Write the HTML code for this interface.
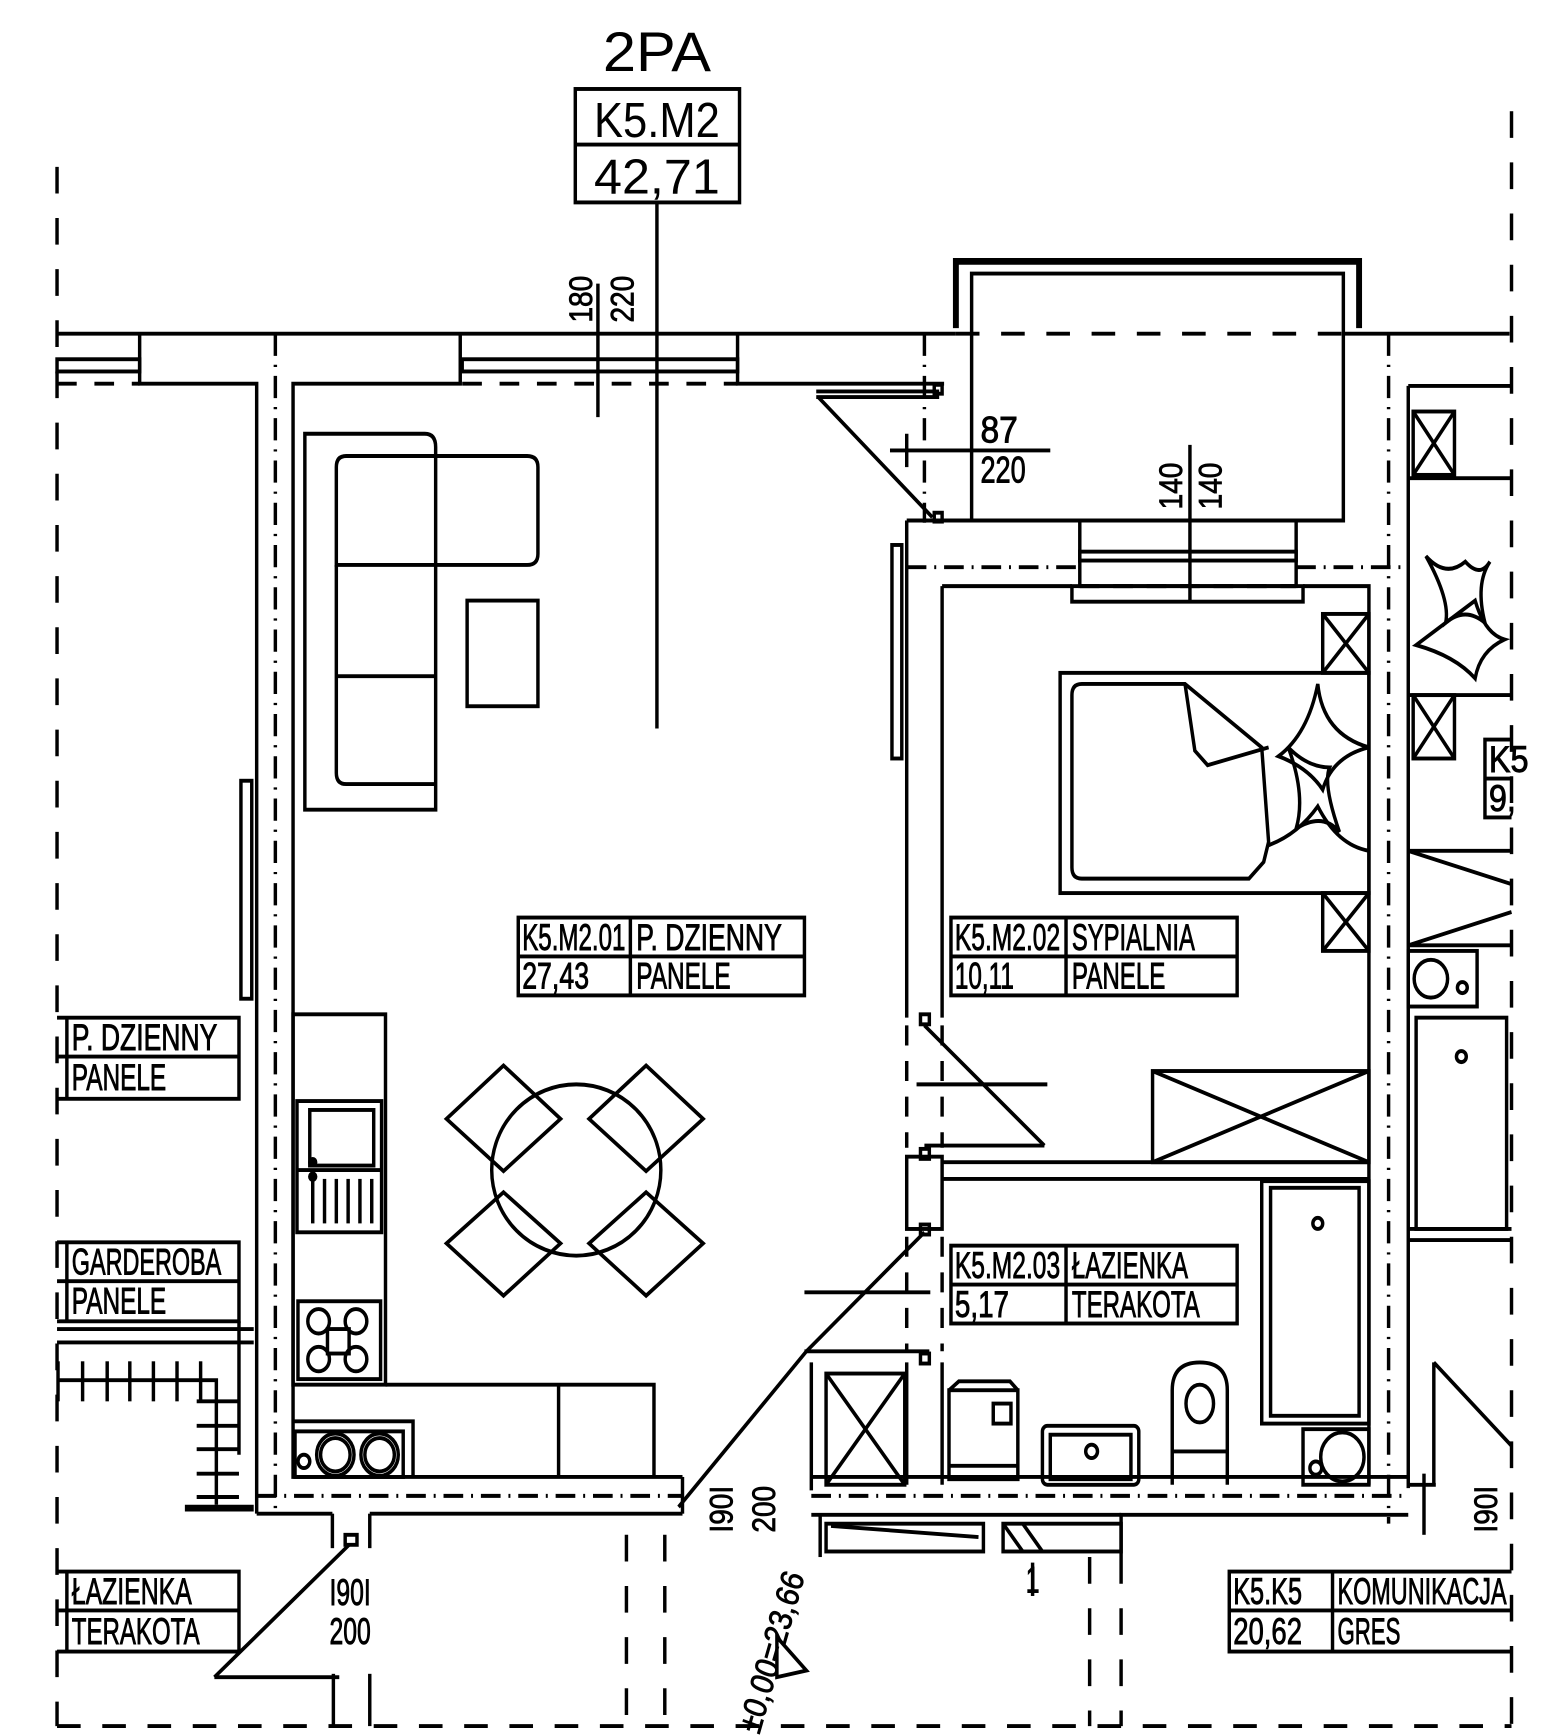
<!DOCTYPE html>
<html><head><meta charset="utf-8"><style>
html,body{margin:0;padding:0;background:#fff}
svg{display:block}
text{font-family:"Liberation Sans",sans-serif;fill:#000}
</style></head><body>
<svg width="1542" height="1735" viewBox="0 0 1568 1560" preserveAspectRatio="none" xmlns="http://www.w3.org/2000/svg">
<g fill="none" stroke="#000" stroke-width="3.5" vector-effect="non-scaling-stroke" style="vector-effect:non-scaling-stroke">
<!-- outer dashed frame -->
<line x1="58" y1="150" x2="58" y2="1552" stroke-dasharray="24 22"/>
<line x1="1537" y1="100" x2="1537" y2="1552" stroke-dasharray="24 22"/>
<line x1="58" y1="1552" x2="1537" y2="1552" stroke-dasharray="24 22"/>

<!-- top wall -->
<line x1="58" y1="300" x2="972" y2="300"/>
<line x1="972" y1="300" x2="1366" y2="300" stroke-dasharray="24 22"/>
<line x1="1366" y1="300" x2="1535" y2="300"/>
<rect x="58" y="323" width="84" height="11"/>
<rect x="470" y="323" width="280" height="11"/>
<line x1="58" y1="345" x2="142" y2="345" stroke-dasharray="20 18"/>
<line x1="470" y1="345" x2="750" y2="345" stroke-dasharray="20 18"/>
<polyline points="142,300 142,345 261,345 261,1361"/>
<polyline points="468,300 468,345 298,345 298,1328 694,1328"/>
<polyline points="750,300 750,345 960,345"/>
<line x1="280" y1="300" x2="280" y2="1360" stroke-dasharray="20 8 2 8"/>
<line x1="261" y1="1361" x2="338" y2="1361"/>
<line x1="376" y1="1361" x2="694" y2="1361"/>
<line x1="261" y1="1345" x2="694" y2="1345" stroke-dasharray="20 8 2 8"/>
<line x1="694" y1="1328" x2="694" y2="1361"/>
<!-- door jambs bottom-left -->
<polyline points="338,1361 338,1392"/><polyline points="376,1361 376,1392"/>
<rect x="351" y="1380" width="12" height="9"/>
<line x1="355" y1="1389" x2="218" y2="1508"/>
<line x1="218" y1="1508" x2="345" y2="1508"/>
<polyline points="339,1505 339,1552"/><polyline points="376,1505 376,1552"/>
<!-- left stairs -->
<line x1="58" y1="1195" x2="258" y2="1195"/><line x1="58" y1="1207" x2="258" y2="1207"/>
<polyline points="58,1241 220,1241 220,1353"/>
<line x1="59" y1="1224" x2="59" y2="1260"/><line x1="84" y1="1224" x2="84" y2="1260"/><line x1="109" y1="1224" x2="109" y2="1260"/><line x1="132" y1="1224" x2="132" y2="1260"/><line x1="156" y1="1224" x2="156" y2="1260"/><line x1="180" y1="1224" x2="180" y2="1260"/><line x1="204" y1="1224" x2="204" y2="1260"/>
<line x1="200" y1="1260" x2="243" y2="1260"/><line x1="200" y1="1282" x2="243" y2="1282"/><line x1="200" y1="1303" x2="243" y2="1303"/><line x1="200" y1="1325" x2="243" y2="1325"/><line x1="200" y1="1346" x2="243" y2="1346"/>
<line x1="243" y1="1188" x2="243" y2="1308"/>
<line x1="188" y1="1356" x2="258" y2="1356" stroke-width="6"/>
<!-- wall decoration left (TV) -->
<rect x="245" y="702" width="11" height="196"/>

<!-- leader & dims -->
<line x1="668" y1="182" x2="668" y2="655"/>
<line x1="608" y1="255" x2="608" y2="375"/>
<line x1="905" y1="405" x2="1068" y2="405"/>
<line x1="922" y1="390" x2="922" y2="420"/>
<line x1="1210" y1="400" x2="1210" y2="542"/>

<!-- balcony -->
<polyline points="972,295 972,235 1382,235 1382,295" stroke-width="6"/>
<polyline points="988,300 988,246 1366,246 1366,468 988,468 988,300"/>
<line x1="940" y1="300" x2="940" y2="470" stroke-dasharray="20 8 2 8"/>
<line x1="1412" y1="300" x2="1412" y2="1370" stroke-dasharray="20 8 2 8"/>
<line x1="830" y1="352" x2="955" y2="352"/><line x1="830" y1="357" x2="955" y2="357"/>
<line x1="832" y1="357" x2="948" y2="465"/>
<rect x="950" y="346" width="8" height="8"/><rect x="950" y="461" width="8" height="8"/>

<!-- bedroom top wall -->
<polyline points="922,468 988,468"/>
<line x1="922" y1="468" x2="922" y2="915"/>
<line x1="958" y1="527" x2="958" y2="915"/>
<polyline points="958,527 1090,527"/>
<polyline points="1325,527 1392,527 1392,1335"/>
<rect x="1098" y="468" width="220" height="59"/>
<rect x="1098" y="496" width="220" height="8"/>
<line x1="922" y1="510" x2="1098" y2="510" stroke-dasharray="20 8 2 8"/>
<line x1="1318" y1="510" x2="1432" y2="510" stroke-dasharray="20 8 2 8"/>
<rect x="1090" y="527" width="235" height="14"/>
<line x1="1098" y1="527" x2="1318" y2="527" stroke-dasharray="20 14"/>
<rect x="907" y="490" width="10" height="192"/>

<!-- right wall -->
<line x1="1432" y1="347" x2="1432" y2="1338"/>
<line x1="1432" y1="347" x2="1537" y2="347"/>
<rect x="1437" y="370" width="42" height="57"/><line x1="1437" y1="370" x2="1479" y2="427"/><line x1="1479" y1="370" x2="1437" y2="427"/>
<rect x="1437" y="625" width="42" height="57"/><line x1="1437" y1="625" x2="1479" y2="682"/><line x1="1479" y1="625" x2="1437" y2="682"/>
<line x1="1432" y1="430" x2="1537" y2="430"/>
<line x1="1432" y1="625" x2="1537" y2="625"/>
<path d="M1450,500 Q1470,520 1490,505 Q1505,520 1515,505 Q1500,525 1510,560 Q1490,545 1470,560 Q1475,540 1450,500Z"/>
<path d="M1440,580 Q1470,560 1500,540 Q1510,570 1530,575 Q1505,585 1500,610 Q1480,590 1440,580Z"/>
<line x1="1432" y1="765" x2="1537" y2="765"/>
<polyline points="1432,765 1537,795"/>
<polyline points="1537,820 1432,850 1537,850"/>
<rect x="1432" y="855" width="70" height="50"/><circle cx="1455" cy="880" r="17"/><circle cx="1487" cy="888" r="5"/>
<rect x="1440" y="915" width="92" height="190"/><circle cx="1486" cy="950" r="5"/>
<line x1="1432" y1="1105" x2="1537" y2="1105"/><line x1="1432" y1="1115" x2="1537" y2="1115"/>
<polyline points="1458,1225 1537,1300"/><line x1="1458" y1="1225" x2="1458" y2="1335"/>
<line x1="1432" y1="1335" x2="1460" y2="1335"/>

<!-- partitions & doors -->
<rect x="936" y="912" width="9" height="9"/>
<line x1="922" y1="922" x2="922" y2="1032" stroke-dasharray="18 14"/>
<line x1="958" y1="922" x2="958" y2="1032" stroke-dasharray="18 14"/>
<line x1="940" y1="922" x2="1062" y2="1030"/>
<line x1="940" y1="1030" x2="1062" y2="1030"/>
<line x1="932" y1="975" x2="1065" y2="975"/>
<rect x="922" y="1040" width="36" height="65"/>
<rect x="936" y="1033" width="9" height="9"/><rect x="936" y="1101" width="9" height="9"/>
<line x1="958" y1="1045" x2="1392" y2="1045"/><line x1="958" y1="1060" x2="1392" y2="1060"/>
<rect x="1172" y="963" width="220" height="82"/><line x1="1172" y1="963" x2="1392" y2="1045"/><line x1="1392" y1="963" x2="1172" y2="1045"/>
<line x1="922" y1="1112" x2="922" y2="1215" stroke-dasharray="18 14"/>
<line x1="958" y1="1112" x2="958" y2="1215" stroke-dasharray="18 14"/>
<line x1="940" y1="1108" x2="820" y2="1215"/>
<line x1="818" y1="1215" x2="945" y2="1215"/>
<line x1="818" y1="1162" x2="946" y2="1162"/>
<rect x="936" y="1217" width="9" height="9"/>
<line x1="922" y1="1225" x2="922" y2="1335"/><line x1="958" y1="1225" x2="958" y2="1335"/>
<line x1="825" y1="1225" x2="825" y2="1340"/>
<line x1="820" y1="1215" x2="690" y2="1355"/>
<rect x="840" y="1235" width="80" height="100"/><line x1="840" y1="1235" x2="920" y2="1335"/><line x1="920" y1="1235" x2="840" y2="1335"/>
<line x1="825" y1="1328" x2="1432" y2="1328"/>
<line x1="825" y1="1345" x2="1432" y2="1345" stroke-dasharray="20 8 2 8"/>
<line x1="825" y1="1362" x2="1140" y2="1362"/>
<polyline points="1140,1400 1140,1362 1432,1362"/>
<rect x="840" y="1370" width="160" height="25"/><line x1="845" y1="1372" x2="995" y2="1382"/>
<rect x="1020" y="1370" width="120" height="25"/><line x1="1020" y1="1370" x2="1040" y2="1395"/><line x1="1040" y1="1370" x2="1060" y2="1395"/>
<line x1="834" y1="1362" x2="834" y2="1400"/>
<line x1="637" y1="1380" x2="637" y2="1552" stroke-dasharray="24 22"/>
<line x1="676" y1="1380" x2="676" y2="1552" stroke-dasharray="24 22"/>
<line x1="1108" y1="1400" x2="1108" y2="1552" stroke-dasharray="24 22"/>
<line x1="1140" y1="1400" x2="1140" y2="1552" stroke-dasharray="24 22"/>
<line x1="1050" y1="1405" x2="1050" y2="1435"/>
<line x1="1448" y1="1325" x2="1448" y2="1380"/>

<!-- bed -->
<rect x="1078" y="605" width="314" height="198"/>
<path d="M1100,615 L1205,615 L1283,672 L1290,757 L1285,775 L1270,790 L1100,790 Q1090,790 1090,780 L1090,625 Q1090,615 1100,615Z"/>
<path d="M1205,615 L1215,675 L1228,688 L1290,672"/>
<path d="M1340,615 Q1345,660 1392,672 Q1355,680 1345,710 Q1330,690 1300,680 Q1330,660 1340,615Z"/>
<path d="M1310,672 Q1330,690 1352,690 Q1345,705 1362,748 Q1345,730 1318,745 Q1328,715 1310,672Z"/>
<path d="M1290,760 Q1320,750 1340,725 Q1360,760 1392,765"/>
<rect x="1345" y="552" width="47" height="53"/><line x1="1345" y1="552" x2="1392" y2="605"/><line x1="1392" y1="552" x2="1345" y2="605"/>
<rect x="1345" y="803" width="47" height="52"/><line x1="1345" y1="803" x2="1392" y2="855"/><line x1="1392" y1="803" x2="1345" y2="855"/>

<!-- bathroom fixtures -->
<rect x="1283" y="1062" width="109" height="218"/>
<rect x="1292" y="1068" width="90" height="205"/>
<circle cx="1340" cy="1100" r="5"/>
<rect x="1325" y="1285" width="67" height="50"/><circle cx="1365" cy="1310" r="22"/><circle cx="1338" cy="1320" r="6"/>
<path d="M1192,1335 L1192,1250 Q1192,1225 1220,1225 Q1248,1225 1248,1250 L1248,1335"/>
<ellipse cx="1220" cy="1262" rx="14" ry="17"/>
<line x1="1192" y1="1305" x2="1248" y2="1305"/>
<rect x="1060" y="1282" width="98" height="53" rx="5"/><rect x="1068" y="1290" width="82" height="40"/>
<circle cx="1110" cy="1305" r="6"/>
<rect x="965" y="1250" width="70" height="80"/><polyline points="965,1250 975,1242 1027,1242 1035,1250"/><rect x="1010" y="1262" width="18" height="18"/>
<line x1="965" y1="1318" x2="1035" y2="1318"/>

<!-- living furniture -->
<path d="M310,390 L432,390 Q443,390 443,402 L443,728 L310,728 Z"/>
<path d="M352,410 L536,410 Q547,410 547,420 L547,498 Q547,508 536,508 L342,508 L342,420 Q342,410 352,410Z"/>
<path d="M342,508 L342,695 Q342,705 352,705 L443,705"/>
<line x1="342" y1="608" x2="443" y2="608"/>
<rect x="475" y="540" width="72" height="95"/>
<!-- kitchen -->
<rect x="298" y="912" width="94" height="333"/>
<rect x="302" y="990" width="86" height="118"/>
<rect x="315" y="998" width="65" height="50"/>
<line x1="302" y1="1052" x2="388" y2="1052"/>
<line x1="318" y1="1060" x2="318" y2="1100"/><line x1="330" y1="1060" x2="330" y2="1100"/><line x1="342" y1="1060" x2="342" y2="1100"/><line x1="354" y1="1060" x2="354" y2="1100"/><line x1="366" y1="1060" x2="366" y2="1100"/><line x1="378" y1="1060" x2="378" y2="1100"/>
<circle cx="318" cy="1045" r="3" fill="#000"/><circle cx="318" cy="1058" r="3" fill="#000"/>
<rect x="303" y="1170" width="84" height="70"/>
<circle cx="324" cy="1188" r="11"/><circle cx="362" cy="1188" r="11"/><circle cx="324" cy="1222" r="11"/><circle cx="362" cy="1222" r="11"/>
<rect x="333" y="1195" width="22" height="22"/>
<polyline points="392,1245 665,1245 665,1328"/>
<line x1="568" y1="1245" x2="568" y2="1328"/>
<polyline points="298,1278 420,1278 420,1328"/>
<rect x="300" y="1287" width="110" height="41"/>
<circle cx="341" cy="1308" r="19"/><circle cx="386" cy="1308" r="19"/>
<circle cx="341" cy="1308" r="15"/><circle cx="386" cy="1308" r="15"/>
<circle cx="309" cy="1314" r="6"/>
<!-- dining -->
<ellipse cx="586" cy="1052" rx="86" ry="77"/>
<polygon points="512,958 570,1006 512,1053 454,1006"/>
<polygon points="657,958 715,1006 657,1053 599,1006"/>
<polygon points="512,1072 570,1118 512,1165 454,1118"/>
<polygon points="657,1072 715,1118 657,1165 599,1118"/>

<!-- title box -->
<rect x="585" y="80" width="167" height="102"/>
<line x1="585" y1="130" x2="752" y2="130"/>

<!-- room label tables -->
<rect x="527" y="825" width="291" height="70"/><line x1="527" y1="860" x2="818" y2="860"/><line x1="641" y1="825" x2="641" y2="895"/>
<rect x="967" y="825" width="291" height="70"/><line x1="967" y1="860" x2="1258" y2="860"/><line x1="1084" y1="825" x2="1084" y2="895"/>
<rect x="967" y="1120" width="291" height="70"/><line x1="967" y1="1155" x2="1258" y2="1155"/><line x1="1084" y1="1120" x2="1084" y2="1190"/>
<polyline points="58,915 243,915 243,988 58,988"/><line x1="58" y1="950" x2="243" y2="950"/><line x1="68" y1="915" x2="68" y2="988"/>
<polyline points="58,1117 243,1117 243,1188 58,1188"/><line x1="58" y1="1152" x2="243" y2="1152"/><line x1="68" y1="1117" x2="68" y2="1188"/>
<polyline points="58,1413 243,1413 243,1485 58,1485"/><line x1="58" y1="1448" x2="243" y2="1448"/><line x1="68" y1="1413" x2="68" y2="1485"/>
<polyline points="1537,1413 1250,1413 1250,1485 1537,1485"/><line x1="1250" y1="1448" x2="1537" y2="1448"/><line x1="1355" y1="1413" x2="1355" y2="1485"/>
<polyline points="1537,665 1510,665 1510,735 1537,735"/><line x1="1510" y1="700" x2="1537" y2="700"/>
<polygon points="790,1472 820,1502 790,1508"/>
</g>

<g font-size="33" stroke="#000" stroke-width="0.8">
<text x="668" y="64" text-anchor="middle" font-size="50" stroke-width="0" textLength="110" lengthAdjust="spacingAndGlyphs">2PA</text>
<text x="668" y="123" text-anchor="middle" font-size="44" stroke-width="0" textLength="128" lengthAdjust="spacingAndGlyphs">K5.M2</text>
<text x="668" y="174" text-anchor="middle" font-size="44" stroke-width="0" textLength="128" lengthAdjust="spacingAndGlyphs">42,71</text>

<text x="531" y="854" textLength="105" lengthAdjust="spacingAndGlyphs">K5.M2.01</text>
<text x="647" y="854" textLength="148" lengthAdjust="spacingAndGlyphs">P. DZIENNY</text>
<text x="531" y="889" textLength="68" lengthAdjust="spacingAndGlyphs">27,43</text>
<text x="647" y="889" textLength="96" lengthAdjust="spacingAndGlyphs">PANELE</text>

<text x="971" y="854" textLength="107" lengthAdjust="spacingAndGlyphs">K5.M2.02</text>
<text x="1090" y="854" textLength="125" lengthAdjust="spacingAndGlyphs">SYPIALNIA</text>
<text x="971" y="889" textLength="60" lengthAdjust="spacingAndGlyphs">10,11</text>
<text x="1090" y="889" textLength="95" lengthAdjust="spacingAndGlyphs">PANELE</text>

<text x="971" y="1149" textLength="107" lengthAdjust="spacingAndGlyphs">K5.M2.03</text>
<text x="1090" y="1149" textLength="118" lengthAdjust="spacingAndGlyphs">ŁAZIENKA</text>
<text x="971" y="1184" textLength="55" lengthAdjust="spacingAndGlyphs">5,17</text>
<text x="1090" y="1184" textLength="130" lengthAdjust="spacingAndGlyphs">TERAKOTA</text>

<text x="73" y="944" textLength="148" lengthAdjust="spacingAndGlyphs">P. DZIENNY</text>
<text x="73" y="980" textLength="96" lengthAdjust="spacingAndGlyphs">PANELE</text>
<text x="73" y="1146" textLength="152" lengthAdjust="spacingAndGlyphs">GARDEROBA</text>
<text x="73" y="1181" textLength="96" lengthAdjust="spacingAndGlyphs">PANELE</text>
<text x="73" y="1442" textLength="122" lengthAdjust="spacingAndGlyphs">ŁAZIENKA</text>
<text x="73" y="1478" textLength="130" lengthAdjust="spacingAndGlyphs">TERAKOTA</text>
<text x="1254" y="1442" textLength="70" lengthAdjust="spacingAndGlyphs">K5.K5</text>
<text x="1360" y="1442" textLength="172" lengthAdjust="spacingAndGlyphs">KOMUNIKACJA</text>
<text x="1254" y="1478" textLength="70" lengthAdjust="spacingAndGlyphs">20,62</text>
<text x="1360" y="1478" textLength="64" lengthAdjust="spacingAndGlyphs">GRES</text>
<text x="1514" y="694">K5</text>
<text x="1514" y="729">9,</text>

<text x="997" y="398" textLength="38" lengthAdjust="spacingAndGlyphs">87</text>
<text x="997" y="434" textLength="46" lengthAdjust="spacingAndGlyphs">220</text>
<text transform="translate(602,290) rotate(-90)" textLength="42" lengthAdjust="spacingAndGlyphs">180</text>
<text transform="translate(644,290) rotate(-90)" textLength="42" lengthAdjust="spacingAndGlyphs">220</text>
<text transform="translate(1202,458) rotate(-90)" textLength="42" lengthAdjust="spacingAndGlyphs">140</text>
<text transform="translate(1242,458) rotate(-90)" textLength="42" lengthAdjust="spacingAndGlyphs">140</text>
<text transform="translate(745,1378) rotate(-90)" textLength="42" lengthAdjust="spacingAndGlyphs">I90I</text>
<text transform="translate(788,1378) rotate(-90)" textLength="42" lengthAdjust="spacingAndGlyphs">200</text>
<text transform="translate(1522,1378) rotate(-90)" textLength="42" lengthAdjust="spacingAndGlyphs">I90I</text>
<text x="335" y="1443" textLength="42" lengthAdjust="spacingAndGlyphs">I90I</text>
<text x="335" y="1478" textLength="42" lengthAdjust="spacingAndGlyphs">200</text>
<text x="1043" y="1432" textLength="14" lengthAdjust="spacingAndGlyphs">1</text>
<text transform="translate(772,1560) rotate(-72)" textLength="150" lengthAdjust="spacingAndGlyphs">±0,00=23,66</text>
</g>
</svg>
</body></html>
